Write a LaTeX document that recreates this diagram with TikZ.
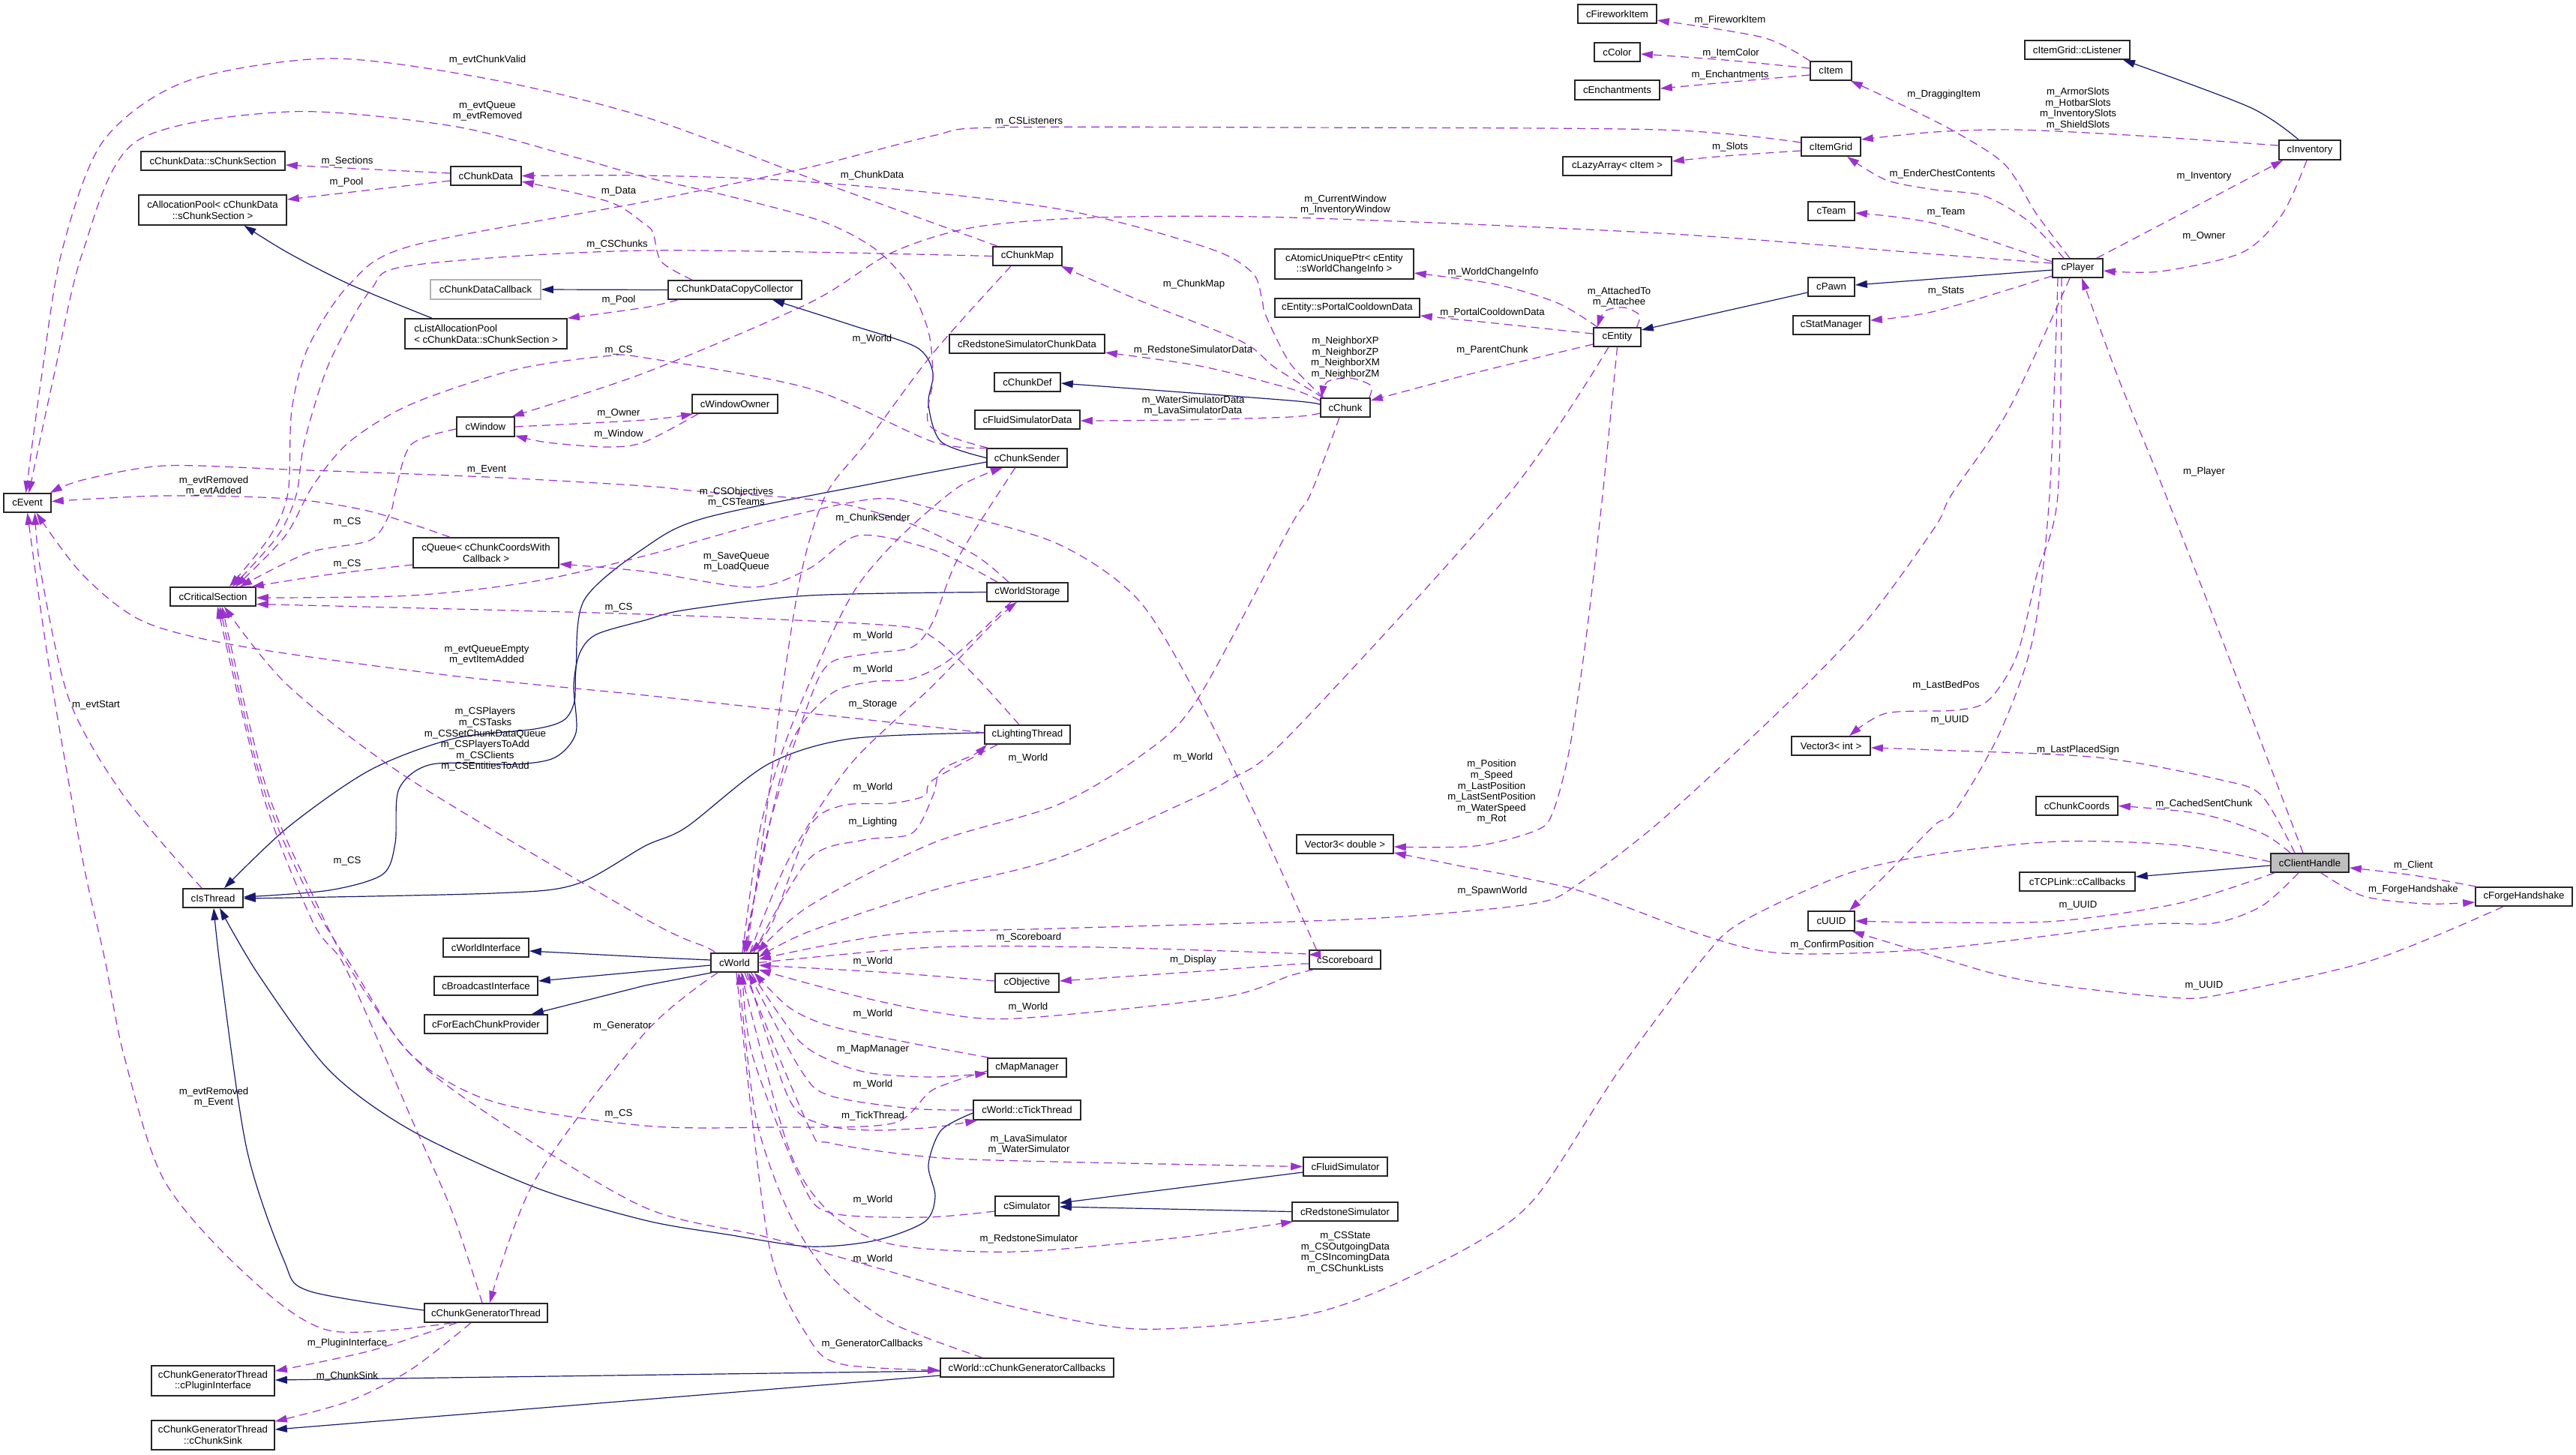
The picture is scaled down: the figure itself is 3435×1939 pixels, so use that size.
\documentclass[tikz,border=0pt]{standalone}
\usepackage{fontspec}
\newfontfamily\lsans{Liberation Sans}
\usetikzlibrary{arrows.meta}
\definecolor{pp}{HTML}{9A32CD}
\definecolor{nv}{HTML}{191970}
\newcommand\fs{\lsans\fontsize{6.6}{7.3}\selectfont}
\tikzset{
 box/.style={draw=black!85,line width=0.8pt,fill=white,inner sep=1pt,font=\fs,align=center},
 dep/.style={draw=pp,line width=0.6pt,dash pattern=on 5.5pt off 3.5pt,-{Triangle[length=8pt,width=5pt]}},
 inh/.style={draw=nv,line width=0.6pt,-{Triangle[length=8pt,width=5pt]}},
 lbl/.style={font=\fs,inner sep=0pt,align=center},
}
\newcommand\bx[7][]{\node[box,#1,minimum width={(#5-#3)*0.5pt},minimum height={(#6-#4)*0.5pt}] (#2) at ({(#3+#5)/2},{(#4+#6)/2}) {#7};}
\begin{document}
\begin{tikzpicture}[x=0.5pt,y=-0.5pt]
\useasboundingbox (0,0) rectangle (3435,1939);
% ---------- nodes ----------
\bx{evt}{5}{658}{68}{683}{cEvent}
\bx{cdsec}{188}{202}{380}{227}{cChunkData::sChunkSection}
\bx{cdata}{601}{222}{695}{247}{cChunkData}
\bx{apool}{185}{260}{382}{300}{cAllocationPool< cChunkData\\::sChunkSection >}
\bx[draw=black!30]{cdcb}{574}{373}{721}{399}{cChunkDataCallback}
\bx[align=left]{lapool}{540}{425}{756}{465}{cListAllocationPool\\< cChunkData::sChunkSection >}
\bx{win}{609}{556}{686}{582}{cWindow}
\bx{cs}{227}{783}{341}{808}{cCriticalSection}
\bx{queue}{551}{717}{745}{757}{cQueue< cChunkCoordsWith\\Callback >}
\bx{isth}{244}{1185}{324}{1210}{cIsThread}
\bx{wif}{591}{1251}{705}{1276}{cWorldInterface}
\bx{bif}{579}{1302}{717}{1327}{cBroadcastInterface}
\bx{fecp}{566}{1353}{730}{1378}{cForEachChunkProvider}
\bx{cgt}{566}{1738}{730}{1763}{cChunkGeneratorThread}
\bx{cgtpi}{202}{1821}{366}{1861}{cChunkGeneratorThread\\::cPluginInterface}
\bx{cgtcs}{202}{1894}{366}{1933}{cChunkGeneratorThread\\::cChunkSink}
\bx{cmap}{1324}{329}{1416}{354}{cChunkMap}
\bx{cdcc}{891}{374}{1069}{399}{cChunkDataCopyCollector}
\bx{rscd}{1266}{446}{1473}{471}{cRedstoneSimulatorChunkData}
\bx{cdef}{1326}{497}{1414}{522}{cChunkDef}
\bx{fsd}{1300}{547}{1440}{572}{cFluidSimulatorData}
\bx{csend}{1316}{598}{1423}{623}{cChunkSender}
\bx{wown}{923}{526}{1037}{551}{cWindowOwner}
\bx{fwi}{2104}{6}{2209}{31}{cFireworkItem}
\bx{col}{2126}{57}{2187}{82}{cColor}
\bx{ench}{2100}{107}{2213}{133}{cEnchantments}
\bx{item}{2414}{82}{2469}{107}{cItem}
\bx{igrid}{2402}{183}{2481}{208}{cItemGrid}
\bx{lazy}{2084}{209}{2229}{234}{cLazyArray< cItem >}
\bx{team}{2411}{269}{2473}{294}{cTeam}
\bx{aup}{1700}{332}{1885}{372}{cAtomicUniquePtr< cEntity\\::sWorldChangeInfo >}
\bx{pcd}{1700}{398}{1893}{423}{cEntity::sPortalCooldownData}
\bx{ent}{2125}{437}{2188}{462}{cEntity}
\bx{chunk}{1761}{531}{1827}{556}{cChunk}
\bx{pawn}{2411}{370}{2473}{395}{cPawn}
\bx{stat}{2391}{421}{2493}{446}{cStatManager}
\bx{lst}{2700}{54}{2840}{79}{cItemGrid::cListener}
\bx{inv}{3039}{187}{3121}{213}{cInventory}
\bx{player}{2737}{345}{2804}{370}{cPlayer}
\bx{wstor}{1316}{777}{1424}{802}{cWorldStorage}
\bx{light}{1313}{967}{1427}{992}{cLightingThread}
\bx{world}{948}{1271}{1011}{1296}{cWorld}
\bx{v3i}{2389}{982}{2494}{1007}{Vector3< int >}
\bx{v3d}{1729}{1113}{1858}{1138}{Vector3< double >}
\bx{uuid}{2411}{1215}{2473}{1241}{cUUID}
\bx{sb}{1746}{1267}{1841}{1292}{cScoreboard}
\bx{ccoords}{2715}{1062}{2824}{1087}{cChunkCoords}
\bx[fill=black!25]{ch}{3028}{1138}{3132}{1163}{cClientHandle}
\bx{tcp}{2693}{1163}{2847}{1188}{cTCPLink::cCallbacks}
\bx{fh}{3301}{1183}{3430}{1208}{cForgeHandshake}
\bx{obj}{1327}{1298}{1412}{1323}{cObjective}
\bx{mapm}{1317}{1411}{1422}{1436}{cMapManager}
\bx{tick}{1298}{1467}{1441}{1493}{cWorld::cTickThread}
\bx{sim}{1327}{1595}{1412}{1621}{cSimulator}
\bx{cgcb}{1254}{1811}{1485}{1836}{cWorld::cChunkGeneratorCallbacks}
\bx{fsim}{1738}{1543}{1850}{1568}{cFluidSimulator}
\bx{rsim}{1723}{1603}{1864}{1628}{cRedstoneSimulator}
% ---------- inheritance ----------
\draw[inh] (cdcc.west) -- (cdcb.east);
\draw[inh] plot[smooth] coordinates {([xshift=-36pt]lapool.north) (466,379) (384,337) ([xshift=21pt]apool.south)};
\draw[inh] plot[smooth] coordinates {(csend.west) (1255,589) (1238,539) (1244,497) (1222,463) (1134,433) ([xshift=25pt]cdcc.south)};
\draw[inh] plot[smooth] coordinates {([yshift=-2.75pt]csend.west) (1178,642) (942,690) (860,730) (779,800) (768,892) (766,935) (752,960) (713,972) (604,985) (493,1027) (384,1103) ([xshift=7.5pt]isth.north)};
\draw[inh] plot[smooth] coordinates {(wstor.west) (1079,794) (915,813) (860,827) (795,846) (773,871) (765,914) (768,977) (740,1010) (686,1019) (576,1019) (532,1052) (527,1124) (510,1166) (439,1187) ([yshift=0.75pt]isth.east)};
\draw[inh] plot[smooth] coordinates {([yshift=1.25pt]light.west) (1134,985) (1024,1019) (915,1103) (860,1128) (768,1179) (658,1191) ([yshift=-0.25pt]isth.east)};
\draw[inh] plot[smooth] coordinates {([yshift=-2pt]tick.west) (1255,1507) (1238,1553) (1247,1595) (1233,1629) (1167,1654) (1079,1662) (970,1646) (860,1627) (713,1583) (548,1507) (439,1427) (345,1300) ([xshift=4.5pt]isth.south)};
\draw[inh] plot[smooth] coordinates {([yshift=1.75pt]cgt.west) (411,1721) (378,1679) (329,1532) (295,1300) ([xshift=0.5pt]isth.south)};
\draw[inh] ([yshift=1.75pt]world.west) -- (860,1276) -- ([yshift=-2.25pt]wif.east);
\draw[inh] ([yshift=-1.75pt]world.west) -- (860,1295) -- ([yshift=3.25pt]bif.east);
\draw[inh] ([xshift=1pt]world.south west) -- (860,1314) -- ([xshift=-11pt]fecp.north east);
\draw[inh] ([yshift=-2.25pt]cgcb.west) -- ([yshift=0.5pt]cgtpi.east);
\draw[inh] ([yshift=-5.25pt]cgcb.west) -- ([yshift=3.75pt]cgtcs.east);
\draw[inh] ([yshift=-3.75pt]fsim.west) -- ([yshift=2pt]sim.east);
\draw[inh] (rsim.west) -- ([yshift=-0.5pt]sim.east);
\draw[inh] plot[smooth] coordinates {([yshift=1.75pt]chunk.west) (1720,534) ([yshift=-0.75pt]cdef.east)};
\draw[inh] ([yshift=-3.75pt]pawn.west) -- ([yshift=4.75pt]ent.east);
\draw[inh] ([yshift=-1.25pt]player.west) -- ([yshift=1.25pt]pawn.east);
\draw[inh] plot[smooth] coordinates {([xshift=-7.5pt]inv.north) (3000,143) ([xshift=30.5pt]lst.south)};
\draw[inh] ([yshift=-1.75pt]ch.west) -- ([yshift=3.25pt]tcp.east);
% ---------- dependencies ----------
\draw[dep] plot[smooth] coordinates {([xshift=-20pt]cmap.north) (1095,243) (860,156) (650,105) (439,78) (247,109) (137,189) (82,337) (55,505) ([xshift=-1pt]evt.north)};
\draw[dep] plot[smooth] coordinates {([xshift=1pt]csend.north west) (1240,568) (1244,505) (1238,442) (1211,379) (1167,332) (1096,295) (970,261) (860,236) (768,210) (603,168) (384,149) (181,189) (110,337) (71,505) ([xshift=1pt]evt.north)};
\draw[dep] plot[smooth] coordinates {([xshift=-24pt]queue.north) (494,682) (384,665) (219,661) ([yshift=1pt]evt.east)};
\draw[dep] plot[smooth] coordinates {([xshift=-12.5pt]wstor.north) (1300,740) (1216,699) (1107,669) (931,655) (860,648) (649,636) (384,626) (219,621) (110,640) ([xshift=-1pt]evt.north east)};
\draw[dep] plot[smooth] coordinates {([yshift=1.25pt]light.west) (1079,951) (860,927) (603,901) (329,863) (192,829) (110,766) ([xshift=6pt]evt.south)};
\draw[dep] plot[smooth] coordinates {([xshift=-7.5pt]isth.north) (165,1061) (93,935) (55,766) ([xshift=5pt]evt.south)};
\draw[dep] plot[smooth] coordinates {([xshift=-22.5pt]cgt.south) (439,1774) (329,1700) (219,1574) (165,1406) (140,1280) (110,1145) (66,892) (evt.south)};
\draw[dep] ([yshift=1.75pt]cdata.west) -- ([yshift=-2.75pt]cdsec.east);
\draw[dep] ([yshift=-3.25pt]cdata.west) -- ([yshift=7pt]apool.east);
\draw[dep] plot[smooth] coordinates {([xshift=-28.5pt]cdcc.north) (882,349) (871,311) (860,299) (812,269) ([yshift=-3.75pt]cdata.east)};
\draw[dep] plot[smooth] coordinates {([xshift=-38pt]cdcc.south) (860,410) (lapool.north east)};
\draw[dep] plot[smooth] coordinates {([xshift=-14.5pt]chunk.north) (1720,484) (1688,421) (1683,400) (1672,366) (1628,337) (1518,303) (1408,278) (1244,257) (1041,240) (860,234) (cdata.east)};
\draw[dep] plot[smooth] coordinates {([yshift=2.75pt]igrid.west) (2214,173) (1720,170) (1326,170) (1244,181) (1079,223) (860,269) (548,328) (466,379) (411,463) (389,547) (384,657) (360,715) ([xshift=11pt]cs.north)};
\draw[dep] plot[smooth] coordinates {(cmap.west) (860,334) (548,354) (494,387) (439,484) (406,589) (395,660) (370,715) ([xshift=13pt]cs.north)};
\draw[dep] plot[smooth] coordinates {([xshift=1pt]csend.north west) (1244,589) (1079,518) (860,477) (806,475) (686,493) (548,539) (466,589) (417,648) (380,715) ([xshift=15pt]cs.north)};
\draw[dep] plot[smooth] coordinates {([yshift=3.25pt]player.west) (2580,339) (2214,311) (1720,290) (1463,290) (1299,303) (1189,337) (1079,404) (860,497) ([xshift=-2pt]win.north east)};
\draw[dep] plot[smooth] coordinates {(win.east) (860,560) ([xshift=1pt]wown.south west)};
\draw[dep] plot[smooth] coordinates {([xshift=-24.5pt]wown.south) (860,589) (812,596) (730,590) ([yshift=1pt]win.south east)};
\draw[dep] plot[smooth] coordinates {([yshift=-1.5pt]win.west) (548,593) (527,657) (521,682) (494,720) (411,737) ([xshift=18pt]cs.north)};
\draw[dep] plot[smooth] coordinates {([yshift=-8pt]queue.west) (439,766) ([xshift=-3pt]cs.north east)};
\draw[dep] plot[smooth] coordinates {([xshift=-20pt]wstor.north) (1244,733) (1145,714) (1079,758) (1003,783) (860,762) ([yshift=-7.5pt]queue.east)};
\draw[dep] plot[smooth] coordinates {([xshift=-19pt]sb.north) (1720,1187) (1672,1082) (1600,935) (1518,800) (1408,724) (1244,678) (1167,665) (1025,695) (860,741) (713,775) (548,794) ([yshift=-0.75pt]cs.east)};
\draw[dep] plot[smooth] coordinates {([xshift=-5.5pt]light.north) (1299,900) (1244,850) (1189,834) (860,819) ([yshift=-5pt]cs.east)};
\draw[dep] plot[smooth] coordinates {([xshift=-13pt]world.north) (942,1263) (860,1225) (548,1040) (384,914) ([xshift=7.5pt]cs.south)};
\draw[dep] plot[smooth] coordinates {([xshift=-2.5pt]cgt.north) (603,1616) (548,1490) (494,1364) (455,1280) (417,1229) (351,1061) ([xshift=3pt]cs.south)};
\draw[dep] plot[smooth] coordinates {([yshift=-2.25pt]mapm.west) (1244,1453) (1189,1498) (1025,1503) (860,1501) (658,1469) (548,1406) (470,1290) (415,1200) (351,1050) ([xshift=4.5pt]cs.south)};
\draw[dep] plot[smooth] coordinates {([yshift=0.75pt]ch.west) (2907,1127) (2744,1122) (2580,1139) (2460,1166) (2323,1229) (2269,1280) (2159,1427) (2049,1595) (1967,1658) (1830,1725) (1720,1757) (1518,1772) (1354,1743) (1189,1696) (1025,1650) (860,1610) (658,1490) (548,1406) (466,1290) (420,1200) (355,1050) ([xshift=6pt]cs.south)};
\draw[dep] plot[smooth] coordinates {([xshift=-11pt]cmap.south) (1244,471) (1156,589) (1101,660) (1068,766) (1041,935) (1025,1061) ([xshift=8pt]world.north)};
\draw[dep] plot[smooth] coordinates {([xshift=-7.75pt]csend.south) (1343,640) (1277,745) (1244,829) (1216,863) (1162,871) (1107,884) (1079,935) (1025,1103) ([xshift=6.75pt]world.north)};
\draw[dep] plot[smooth] coordinates {([xshift=5.25pt]world.north) (1014,1103) (1052,977) (1107,850) (1145,779) (1200,716) (1277,650) ([xshift=-16.25pt]csend.south)};
\draw[dep] plot[smooth] coordinates {([xshift=-11pt]wstor.south) (1271,876) (1216,905) (1162,909) (1107,926) (1052,998) (1008,1187) ([xshift=6.25pt]world.north)};
\draw[dep] plot[smooth] coordinates {([xshift=10.25pt]world.north) (1052,1145) (1134,1019) (1244,914) (1326,829) ([xshift=-7pt]wstor.south)};
\draw[dep] plot[smooth] coordinates {([xshift=-20pt]light.south) (1244,1040) (1233,1061) (1189,1071) (1123,1074) (1079,1103) (1030,1230) ([xshift=10.25pt]world.north)};
\draw[dep] plot[smooth] coordinates {([xshift=12.75pt]world.north) (1079,1145) (1151,1120) (1216,1111) (1244,1061) (1255,1027) (1299,1006) ([xshift=-27pt]light.south)};
\draw[dep] plot[smooth] coordinates {([xshift=-4pt]chunk.south) (1747,660) (1720,703) (1595,935) (1518,1010) (1408,1074) (1244,1124) (1079,1208) ([xshift=-1pt]world.north east)};
\draw[dep] plot[smooth] coordinates {([xshift=-5.75pt]ent.south) (2011,660) (1720,980) (1639,1040) (1573,1073) (1408,1145) (1244,1187) (1079,1242) ([yshift=3.75pt]world.east)};
\draw[dep] plot[smooth] coordinates {([xshift=-5.25pt]player.south) (2678,547) (2602,660) (2580,703) (2488,829) (2378,943) (2214,1095) (2104,1179) (2049,1204) (1885,1221) (1720,1229) (1408,1238) (1189,1246) ([yshift=2.25pt]world.east)};
\draw[dep] plot[smooth] coordinates {(world.east) (1244,1263) (1463,1263) (1720,1271) ([yshift=3.25pt]sb.west)};
\draw[dep] plot[smooth] coordinates {([yshift=-2.75pt]sb.west) (1720,1286) (1573,1297) ([yshift=1.25pt]obj.east)};
\draw[dep] plot[smooth] coordinates {([xshift=3pt]sb.south west) (1720,1301) (1628,1330) (1354,1358) (1244,1349) (1134,1326) ([yshift=-4.75pt]world.east)};
\draw[dep] plot[smooth] coordinates {([yshift=1.25pt]obj.west) (1189,1297) ([yshift=-1.75pt]world.east)};
\draw[dep] plot[smooth] coordinates {([xshift=1.5pt]mapm.north west) (1216,1391) (1107,1368) (1052,1343) ([xshift=-3pt]world.south east)};
\draw[dep] plot[smooth] coordinates {([xshift=11pt]world.south) (1063,1385) (1107,1414) (1162,1431) (1244,1436) ([yshift=-3.75pt]mapm.west)};
\draw[dep] plot[smooth] coordinates {(tick.west) (1216,1478) (1107,1461) (1068,1427) ([xshift=9.25pt]world.south)};
\draw[dep] plot[smooth] coordinates {([xshift=8.25pt]world.south) (1052,1465) (1096,1499) (1162,1507) (1244,1503) ([xshift=3pt]tick.south west)};
\draw[dep] plot[smooth] coordinates {([xshift=6.75pt]world.south) (1079,1503) (1107,1524) (1244,1543) (1408,1549) (fsim.west)};
\draw[dep] plot[smooth] coordinates {([yshift=-3.5pt]sim.west) (1233,1623) (1107,1617) (1068,1574) (1003,1406) ([xshift=5.25pt]world.south)};
\draw[dep] plot[smooth] coordinates {([xshift=4.25pt]world.south) (1052,1532) (1107,1617) (1189,1659) (1354,1669) (1573,1650) ([xshift=1pt]rsim.south west)};
\draw[dep] plot[smooth] coordinates {([xshift=-29.75pt]cgcb.north) (1189,1764) (1107,1701) (1052,1617) (1008,1490) ([xshift=2.75pt]world.south)};
\draw[dep] plot[smooth] coordinates {([xshift=1.25pt]world.south) (1025,1658) (1079,1785) (1123,1819) ([yshift=-1.75pt]cgcb.west)};
\draw[dep] plot[smooth] coordinates {([xshift=5pt]world.south west) (860,1377) (713,1574) ([xshift=2.5pt]cgt.north)};
\draw[dep] plot[smooth] coordinates {([xshift=-19.5pt]cgt.south) (494,1801) ([yshift=6.5pt]cgtpi.east)};
\draw[dep] plot[smooth] coordinates {([xshift=-10pt]cgt.south) (548,1826) (466,1868) ([yshift=-1pt]cgtcs.north east)};
\draw[dep] plot[smooth] coordinates {([xshift=-5.25pt]player.north) (2716,286) (2673,219) (2602,173) (2526,135) ([xshift=-1pt]item.south east)};
\draw[dep] plot[smooth] coordinates {([xshift=-9.25pt]player.north) (2705,295) (2645,261) (2580,253) (2515,240) ([xshift=10.75pt]igrid.south)};
\draw[dep] plot[smooth] coordinates {([yshift=3pt]inv.west) (2853,181) (2689,173) (2580,176) ([yshift=4.75pt]igrid.east)};
\draw[dep] plot[smooth] coordinates {([xshift=-2pt]inv.south) (3043,286) (2989,337) (2880,362) ([yshift=-1.75pt]player.east)};
\draw[dep] plot[smooth] coordinates {([xshift=-4.5pt]player.north east) (2907,286) ([xshift=3pt]inv.south west)};
\draw[dep] plot[smooth] coordinates {([yshift=4.25pt]player.west) (2580,298) ([yshift=-1.25pt]team.east)};
\draw[dep] plot[smooth] coordinates {([yshift=-5.25pt]player.west) (2580,415) ([yshift=3.25pt]stat.east)};
\draw[dep] plot[smooth] coordinates {([xshift=-13.25pt]player.south) (2733,660) (2711,850) (2667,976) (2607,1081) (2580,1100) (2515,1166) ([xshift=12pt]uuid.north)};
\draw[dep] plot[smooth] coordinates {([xshift=-10.75pt]player.south) (2744,660) (2716,766) (2689,875) (2651,934) (2607,947) (2515,951) ([xshift=12.25pt]v3i.north)};
\draw[dep] plot[smooth] coordinates {([xshift=-4.5pt]ch.north) (2962,850) (2880,640) (2825,505) ([xshift=2.75pt]player.south)};
\draw[dep] plot[smooth] coordinates {([xshift=-10pt]ch.north) (3016,1061) (2962,1040) (2798,1010) (2580,1000) ([yshift=-1.25pt]v3i.east)};
\draw[dep] plot[smooth] coordinates {([xshift=-13pt]ch.north) (3016,1111) (2934,1085) (ccoords.east)};
\draw[dep] plot[smooth] coordinates {([xshift=-23.5pt]ch.south) (2907,1204) (2744,1228) (2580,1230) (uuid.east)};
\draw[dep] plot[smooth] coordinates {([xshift=-7.5pt]ch.south) (3016,1208) (2951,1231) (2853,1233) (2580,1265) (2378,1271) (2268,1246) (2104,1187) (1939,1153) ([yshift=-5.75pt]v3d.east)};
\draw[dep] plot[smooth] coordinates {([xshift=1pt]fh.north west) (3218,1167) ([yshift=-3.25pt]ch.east)};
\draw[dep] plot[smooth] coordinates {([xshift=7.5pt]ch.south) (3152,1195) (3234,1205) ([yshift=-3.75pt]fh.west)};
\draw[dep] plot[smooth] coordinates {([xshift=-13.75pt]fh.south) (3164,1280) (2962,1326) (2896,1330) (2744,1314) (2662,1299) (2580,1275) ([xshift=-2pt]uuid.south east)};
\draw[dep] plot[smooth] coordinates {([xshift=3pt]ent.north west) (2077,404) (1994,379) ([yshift=-6pt]aup.east)};
\draw[dep] plot[smooth] coordinates {([yshift=2.25pt]ent.west) (1994,431) ([yshift=-5.25pt]pcd.east)};
\draw[dep] plot[smooth] coordinates {([yshift=-4.75pt]ent.west) (1967,497) ([yshift=4.75pt]chunk.east)};
\draw[dep] plot[smooth] coordinates {([xshift=13pt]ent.north) (2186,420) (2165,410) (2140,415) ([xshift=-13.25pt]ent.north)};
\draw[dep] plot[smooth] coordinates {([xshift=-1pt]chunk.north east) (1828,514) (1800,504) (1770,509) ([xshift=1pt]chunk.north west)};
\draw[dep] plot[smooth] coordinates {(ent.south) (2137,660) (2115,850) (2093,998) (2071,1082) (2049,1107) (1967,1128) ([yshift=-1.75pt]v3d.east)};
\draw[dep] plot[smooth] coordinates {([yshift=4.75pt]chunk.west) (1720,518) (1600,488) ([yshift=-5.75pt]rscd.east)};
\draw[dep] plot[smooth] coordinates {([yshift=-3.75pt]chunk.west) (1720,556) (1573,560) ([yshift=-0.75pt]fsd.east)};
\draw[dep] plot[smooth] coordinates {([xshift=-15pt]chunk.north) (1700,490) (1655,455) (1518,400) ([xshift=-1pt]cmap.south east)};
\draw[dep] plot[smooth] coordinates {(item.north west) (2351,50) ([yshift=-4.25pt]fwi.east)};
\draw[dep] plot[smooth] coordinates {([yshift=1.75pt]item.west) (2300,80) ([yshift=-1.25pt]col.east)};
\draw[dep] plot[smooth] coordinates {([yshift=-2.75pt]item.west) (2300,110) ([yshift=1pt]ench.east)};
\draw[dep] plot[smooth] coordinates {([yshift=-2.75pt]igrid.west) (2300,208) ([yshift=3.25pt]lazy.east)};
% ---------- labels ----------
\node[lbl] (l1) at (650,80) {m\_evtChunkValid};
\node[lbl] (l2) at (650,148) {m\_evtQueue\\m\_evtRemoved};
\node[lbl] (l3) at (463,215) {m\_Sections};
\node[lbl] (l4) at (462,243) {m\_Pool};
\node[lbl] (l5) at (825,255) {m\_Data};
\node[lbl] (l6) at (823,326) {m\_CSChunks};
\node[lbl] (l7) at (825,400) {m\_Pool};
\node[lbl] (l8) at (825,467) {m\_CS};
\node[lbl] (l9) at (825,551) {m\_Owner};
\node[lbl] (l10) at (825,579) {m\_Window};
\node[lbl] (l11) at (649,626) {m\_Event};
\node[lbl] (l12) at (285,648) {m\_evtRemoved\\m\_evtAdded};
\node[lbl] (l13) at (463,696) {m\_CS};
\node[lbl] (l14) at (463,752) {m\_CS};
\node[lbl] (l15) at (825,810) {m\_CS};
\node[lbl] (l16) at (649,873) {m\_evtQueueEmpty\\m\_evtItemAdded};
\node[lbl] (l17) at (128,940) {m\_evtStart};
\node[lbl] (l18) at (647,986) {m\_CSPlayers\\m\_CSTasks\\m\_CSSetChunkDataQueue\\m\_CSPlayersToAdd\\m\_CSClients\\m\_CSEntitiesToAdd};
\node[lbl] (l19) at (463,1148) {m\_CS};
\node[lbl] (l20) at (285,1463) {m\_evtRemoved\\m\_Event};
\node[lbl] (l21) at (830,1368) {m\_Generator};
\node[lbl] (l22) at (825,1485) {m\_CS};
\node[lbl] (l23) at (463,1791) {m\_PluginInterface};
\node[lbl] (l24) at (463,1835) {m\_ChunkSink};
\node[lbl] (l25) at (1372,162) {m\_CSListeners};
\node[lbl] (l26) at (1163,234) {m\_ChunkData};
\node[lbl] (l27) at (1163,452) {m\_World};
\node[lbl] (l28) at (1592,379) {m\_ChunkMap};
\node[lbl] (l29) at (1591,467) {m\_RedstoneSimulatorData};
\node[lbl] (l30) at (1591,541) {m\_WaterSimulatorData\\m\_LavaSimulatorData};
\node[lbl] (l31) at (982,663) {m\_CSObjectives\\m\_CSTeams};
\node[lbl] (l32) at (1164,691) {m\_ChunkSender};
\node[lbl] (l33) at (982,749) {m\_SaveQueue\\m\_LoadQueue};
\node[lbl] (l34) at (1164,848) {m\_World};
\node[lbl] (l35) at (1164,893) {m\_World};
\node[lbl] (l36) at (1164,939) {m\_Storage};
\node[lbl] (l37) at (1164,1050) {m\_World};
\node[lbl] (l38) at (1164,1096) {m\_Lighting};
\node[lbl] (l39) at (1371,1011) {m\_World};
\node[lbl] (l40) at (1591,1010) {m\_World};
\node[lbl] (l41) at (1372,1250) {m\_Scoreboard};
\node[lbl] (l42) at (1164,1282) {m\_World};
\node[lbl] (l43) at (1591,1280) {m\_Display};
\node[lbl] (l44) at (1371,1343) {m\_World};
\node[lbl] (l45) at (1164,1352) {m\_World};
\node[lbl] (l46) at (1164,1399) {m\_MapManager};
\node[lbl] (l47) at (1164,1446) {m\_World};
\node[lbl] (l48) at (1164,1488) {m\_TickThread};
\node[lbl] (l49) at (1372,1526) {m\_LavaSimulator\\m\_WaterSimulator};
\node[lbl] (l50) at (1164,1600) {m\_World};
\node[lbl] (l51) at (1372,1652) {m\_RedstoneSimulator};
\node[lbl] (l52) at (1164,1679) {m\_World};
\node[lbl] (l53) at (1163,1792) {m\_GeneratorCallbacks};
\node[lbl] (l54) at (1794,1670) {m\_CSState\\m\_CSOutgoingData\\m\_CSIncomingData\\m\_CSChunkLists};
\node[lbl] (l55) at (1794,273) {m\_CurrentWindow\\m\_InventoryWindow};
\node[lbl] (l56) at (1991,363) {m\_WorldChangeInfo};
\node[lbl] (l57) at (1990,417) {m\_PortalCooldownData};
\node[lbl] (l58) at (2159,396) {m\_AttachedTo\\m\_Attachee};
\node[lbl] (l59) at (1794,477) {m\_NeighborXP\\m\_NeighborZP\\m\_NeighborXM\\m\_NeighborZM};
\node[lbl] (l60) at (1990,467) {m\_ParentChunk};
\node[lbl] (l61) at (1989,1056) {m\_Position\\m\_Speed\\m\_LastPosition\\m\_LastSentPosition\\m\_WaterSpeed\\m\_Rot};
\node[lbl] (l62) at (1990,1188) {m\_SpawnWorld};
\node[lbl] (l63) at (2443,1260) {m\_ConfirmPosition};
\node[lbl] (l64) at (2307,27) {m\_FireworkItem};
\node[lbl] (l65) at (2308,71) {m\_ItemColor};
\node[lbl] (l66) at (2307,100) {m\_Enchantments};
\node[lbl] (l67) at (2307,196) {m\_Slots};
\node[lbl] (l68) at (2592,126) {m\_DraggingItem};
\node[lbl] (l69) at (2590,232) {m\_EnderChestContents};
\node[lbl] (l70) at (2595,283) {m\_Team};
\node[lbl] (l71) at (2595,388) {m\_Stats};
\node[lbl] (l72) at (2771,145) {m\_ArmorSlots\\m\_HotbarSlots\\m\_InventorySlots\\m\_ShieldSlots};
\node[lbl] (l73) at (2939,235) {m\_Inventory};
\node[lbl] (l74) at (2939,315) {m\_Owner};
\node[lbl] (l75) at (2939,629) {m\_Player};
\node[lbl] (l76) at (2595,914) {m\_LastBedPos};
\node[lbl] (l77) at (2600,960) {m\_UUID};
\node[lbl] (l78) at (2771,1000) {m\_LastPlacedSign};
\node[lbl] (l79) at (2939,1072) {m\_CachedSentChunk};
\node[lbl] (l80) at (2771,1207) {m\_UUID};
\node[lbl] (l81) at (3218,1154) {m\_Client};
\node[lbl] (l82) at (3218,1186) {m\_ForgeHandshake};
\node[lbl] (l83) at (2939,1314) {m\_UUID};
\end{tikzpicture}
\end{document}
